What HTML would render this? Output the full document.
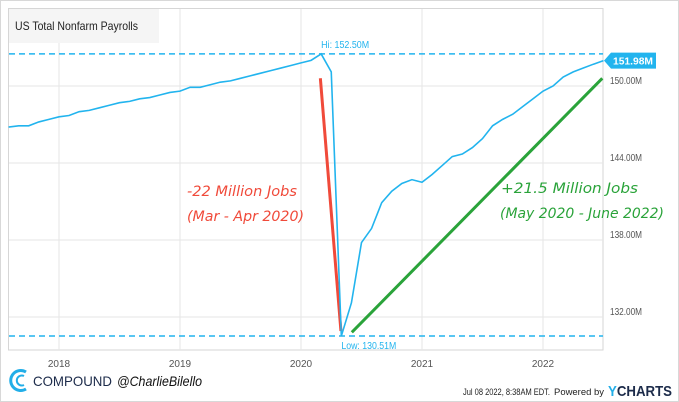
<!DOCTYPE html>
<html><head><meta charset="utf-8"><style>
body{margin:0;background:#fff;}
svg{display:block;font-family:"Liberation Sans",sans-serif;}
</style></head><body>
<svg id="chart" width="679" height="402" viewBox="0 0 679 402">
<rect x="0.5" y="0.5" width="678" height="401" fill="#fff" stroke="#d8d8d8"/>
<rect x="8.5" y="8.5" width="594.5" height="341.5" fill="#fff" stroke="#d6d6d6"/>
<g id="grid"></g>
<g id="ticks"></g>
<rect x="9" y="9" width="150" height="34" fill="#f5f5f5"/>
<text x="15" y="30" font-size="12" fill="#222" textLength="123" lengthAdjust="spacingAndGlyphs">US Total Nonfarm Payrolls</text>
<g id="marks"></g>
<text x="187" y="196" font-size="14" fill="#f04a3a" font-family="'DejaVu Sans',sans-serif" font-style="italic" textLength="110" lengthAdjust="spacingAndGlyphs">-22 Million Jobs</text>
<text x="187" y="221" font-size="14" fill="#f04a3a" font-family="'DejaVu Sans',sans-serif" font-style="italic" textLength="117" lengthAdjust="spacingAndGlyphs">(Mar - Apr 2020)</text>
<text x="501" y="193" font-size="14" fill="#2aa33a" font-family="'DejaVu Sans',sans-serif" font-style="italic" textLength="137" lengthAdjust="spacingAndGlyphs">+21.5 Million Jobs</text>
<text x="500" y="218" font-size="14" fill="#2aa33a" font-family="'DejaVu Sans',sans-serif" font-style="italic" textLength="164" lengthAdjust="spacingAndGlyphs">(May 2020 - June 2022)</text>
<g>
<path d="M26 372 A10 10 0 1 0 26 389" fill="none" stroke="#22aee8" stroke-width="3"/>
<path d="M24 376 A5 5 0 1 0 24 385" fill="none" stroke="#22aee8" stroke-width="2"/>
</g>
<text x="33" y="386" font-size="14" fill="#1c2b4a" textLength="79" lengthAdjust="spacingAndGlyphs">COMPOUND</text>
<text x="117" y="386" font-size="14" fill="#111" font-style="italic" textLength="85" lengthAdjust="spacingAndGlyphs">@CharlieBilello</text>
<text x="463" y="395" font-size="9" fill="#222" textLength="87" lengthAdjust="spacingAndGlyphs">Jul 08 2022, 8:38AM EDT.</text>
<text x="554" y="395" font-size="9" fill="#222" textLength="50" lengthAdjust="spacingAndGlyphs">Powered by</text>
<text x="608" y="396" font-size="15" font-weight="bold" fill="#1c2b4a" textLength="64" lengthAdjust="spacingAndGlyphs"><tspan fill="#22aee8">Y</tspan>CHARTS</text>
</svg>
<script>
const yTicks=[132,138,144,150];
const xTickYears=[2018,2019,2020,2021,2022];
const startMonth=[2017,7];
const payrolls=[146.8,146.9,146.9,147.2,147.4,147.6,
147.7,148.0,148.1,148.3,148.5,148.7,148.8,149.0,149.1,149.3,149.5,149.6,
149.9,149.9,150.1,150.3,150.4,150.6,150.8,151.0,151.2,151.4,151.6,151.8,
152.0,152.5,151.1,130.51,133.1,137.8,138.9,140.9,141.8,142.4,142.7,142.5,
143.1,143.8,144.5,144.7,145.2,145.9,146.9,147.4,147.8,148.4,149.0,149.6,
150.0,150.7,151.1,151.4,151.7,151.98];
const hiValue=152.5, lowValue=130.51, lastValue=151.98;
const declineLine=[[2020.16,150.6],[2020.33,130.9]];
const recoveryLine=[[2020.42,130.8],[2022.49,150.6]];
const NS='http://www.w3.org/2000/svg';
const X=t=>59+(t-2018)*121;
const Y=v=>86+(150-v)*12.83;
function el(tag,attrs,parent){const e=document.createElementNS(NS,tag);for(const k in attrs)e.setAttribute(k,attrs[k]);parent.appendChild(e);return e;}
const grid=document.getElementById('grid'),ticks=document.getElementById('ticks'),marks=document.getElementById('marks');
yTicks.forEach(v=>{const l=el('line',{x1:9,x2:603,y1:Y(v),y2:Y(v),stroke:'#e6e6e6'},grid);


const t=el('text',{x:610,y:Y(v)-2,'font-size':10,fill:'#555',textLength:32,lengthAdjust:'spacingAndGlyphs'},ticks);t.textContent=v.toFixed(2)+'M';

});
xTickYears.forEach(y=>{const l=el('line',{x1:X(y),x2:X(y),y1:9,y2:350,stroke:'#e6e6e6'},grid);


const t=el('text',{x:X(y),y:367,'font-size':10,fill:'#555','text-anchor':'middle'},ticks);t.textContent=y;

});
const pts=payrolls.map((v,i)=>{const m=startMonth[1]+i;const yr=startMonth[0]+Math.floor(m/12);const frac=(m%12)/12;return [X(yr+frac),Y(v)];});
[[hiValue,'hi-line'],[lowValue,'low-line']].forEach(([v,n])=>{const l=el('line',{x1:9,x2:603,y1:Y(v),y2:Y(v),stroke:'#22b4ee','stroke-width':1.5,'stroke-dasharray':'6,4'},marks);

});
const dl=el('line',{x1:X(declineLine[0][0]),y1:Y(declineLine[0][1]),x2:X(declineLine[1][0]),y2:Y(declineLine[1][1]),stroke:'#f04a3a','stroke-width':3},marks);


const rl=el('line',{x1:X(recoveryLine[0][0]),y1:Y(recoveryLine[0][1]),x2:X(recoveryLine[1][0]),y2:Y(recoveryLine[1][1]),stroke:'#2aa33a','stroke-width':3},marks);


const pl=el('polyline',{points:pts.map(p=>p.join(',')).join(' '),fill:'none',stroke:'#22b4ee','stroke-width':1.6},marks);


const hiIdx=payrolls.indexOf(hiValue),loIdx=payrolls.indexOf(lowValue);
const ht=el('text',{x:pts[hiIdx][0],y:Y(hiValue)-6,'font-size':10,fill:'#22b4ee',textLength:48,lengthAdjust:'spacingAndGlyphs'},marks);ht.textContent='Hi: '+hiValue.toFixed(2)+'M';


const lt=el('text',{x:pts[loIdx][0],y:Y(lowValue)+13,'font-size':10,fill:'#22b4ee',textLength:55,lengthAdjust:'spacingAndGlyphs'},marks);lt.textContent='Low: '+lowValue.toFixed(2)+'M';


const ly=Y(lastValue);
const tag=el('path',{d:`M604 ${ly} L611 ${ly-8} L656 ${ly-8} L656 ${ly+8} L611 ${ly+8} Z`,fill:'#22b4ee'},marks);


const tt=el('text',{x:613,y:ly+4,'font-size':10,'font-weight':'bold',fill:'#fff',textLength:40,lengthAdjust:'spacingAndGlyphs'},marks);tt.textContent=lastValue.toFixed(2)+'M';


</script>
</body></html>
